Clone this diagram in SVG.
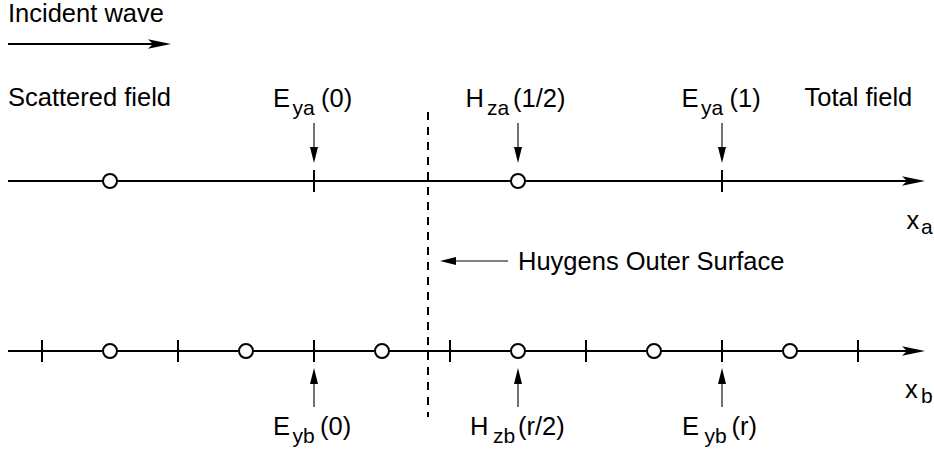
<svg xmlns="http://www.w3.org/2000/svg" width="934" height="451" viewBox="0 0 934 451">
  <style>
    text { font-family: "Liberation Sans", Arial, Helvetica, sans-serif; fill: #000; }
    .big { font-size: 25.5px; }
    .sub { font-size: 21px; }
    .axis { stroke: #000; stroke-width: 2; fill: none; }
    .tick { stroke: #000; stroke-width: 2; }
    .node { stroke: #000; stroke-width: 2; fill: #fff; }
    .ptr { stroke: #000; stroke-width: 1.1; fill: none; }
    .dash { stroke: #000; stroke-width: 2; stroke-dasharray: 8 7; fill: none; }
  </style>
  <defs>
    <marker id="bigHead" viewBox="-25 -6 26 12" refX="-18" refY="0" markerWidth="26" markerHeight="12" markerUnits="userSpaceOnUse" orient="auto" overflow="visible">
      <path d="M0,0 L-23,-4.8 L-18,0 L-23,4.8 Z" fill="#000"/>
    </marker>
    <marker id="smallHead" viewBox="-18 -5 19 10" refX="-14" refY="0" markerWidth="19" markerHeight="10" markerUnits="userSpaceOnUse" orient="auto" overflow="visible">
      <path d="M0,0 L-16,-4 L-16,4 Z" fill="#000"/>
    </marker>
  </defs>

  <g id="incident-wave">
    <text class="big" x="8" y="22">Incident wave</text>
  </g>
  <g id="scattered-field">
    <text class="big" x="8" y="106">Scattered field</text>
  </g>
  <g id="total-field">
    <text class="big" x="804.5" y="106">Total field</text>
  </g>

  <g id="axis-a">
    <line class="axis" x1="8" y1="181" x2="907" y2="181" marker-end="url(#bigHead)"/>
    <line class="tick" x1="314" y1="170" x2="314" y2="192"/>
    <line class="tick" x1="722" y1="170" x2="722" y2="192"/>
    <circle class="node" cx="110" cy="181" r="7"/>
    <circle class="node" cx="518" cy="181" r="7"/>
    <text class="big" x="906.5" y="229">x<tspan class="sub" x="921" y="234">a</tspan></text>
  </g>

  <g id="axis-b">
    <line class="axis" x1="8" y1="351" x2="907" y2="351" marker-end="url(#bigHead)"/>
    <line class="tick" x1="42" y1="340" x2="42" y2="362"/>
    <line class="tick" x1="178" y1="340" x2="178" y2="362"/>
    <line class="tick" x1="314" y1="340" x2="314" y2="362"/>
    <line class="tick" x1="450" y1="340" x2="450" y2="362"/>
    <line class="tick" x1="586" y1="340" x2="586" y2="362"/>
    <line class="tick" x1="722" y1="340" x2="722" y2="362"/>
    <line class="tick" x1="858" y1="340" x2="858" y2="362"/>
    <circle class="node" cx="110" cy="351" r="7"/>
    <circle class="node" cx="246" cy="351" r="7"/>
    <circle class="node" cx="382" cy="351" r="7"/>
    <circle class="node" cx="518" cy="351" r="7"/>
    <circle class="node" cx="654" cy="351" r="7"/>
    <circle class="node" cx="790" cy="351" r="7"/>
    <text class="big" x="905" y="398">x<tspan class="sub" x="921" y="403">b</tspan></text>
  </g>

  <g id="huygens-surface">
    <line class="dash" x1="428" y1="112" x2="428" y2="417"/>
    <text class="big" x="518" y="270">Huygens Outer Surface</text>
  </g>

  <g id="label-eya0">
    <text class="big" x="273" y="107">E<tspan class="sub" x="292.5" y="115">ya</tspan><tspan x="321" y="107">(0)</tspan></text>
  </g>
  <g id="label-hza">
    <text class="big" x="465.5" y="107">H<tspan class="sub" x="487" y="115">za</tspan><tspan x="513" y="107">(1/2)</tspan></text>
  </g>
  <g id="label-eya1">
    <text class="big" x="681.5" y="107">E<tspan class="sub" x="701" y="115">ya</tspan><tspan x="729.5" y="107">(1)</tspan></text>
  </g>
  <g id="label-eyb0">
    <text class="big" x="273" y="435">E<tspan class="sub" x="292.5" y="443">yb</tspan><tspan x="320" y="435">(0)</tspan></text>
  </g>
  <g id="label-hzb">
    <text class="big" x="470" y="435">H<tspan class="sub" x="493" y="443">zb</tspan><tspan x="518" y="435">(r/2)</tspan></text>
  </g>
  <g id="label-eybr">
    <text class="big" x="682" y="435">E<tspan class="sub" x="704.5" y="443">yb</tspan><tspan x="731.5" y="435">(r)</tspan></text>
  </g>

  <g id="connectors">
    <line class="axis" x1="8" y1="44" x2="153" y2="44" marker-end="url(#bigHead)"/>
    <line class="ptr" x1="314" y1="123" x2="314" y2="149" marker-end="url(#smallHead)"/>
    <line class="ptr" x1="518" y1="123" x2="518" y2="149" marker-end="url(#smallHead)"/>
    <line class="ptr" x1="722" y1="123" x2="722" y2="149" marker-end="url(#smallHead)"/>
    <line class="ptr" x1="314" y1="407" x2="314" y2="382" marker-end="url(#smallHead)"/>
    <line class="ptr" x1="518" y1="407" x2="518" y2="382" marker-end="url(#smallHead)"/>
    <line class="ptr" x1="722" y1="407" x2="722" y2="382" marker-end="url(#smallHead)"/>
    <line class="ptr" x1="508" y1="261" x2="454" y2="261" marker-end="url(#smallHead)"/>
  </g>
</svg>
